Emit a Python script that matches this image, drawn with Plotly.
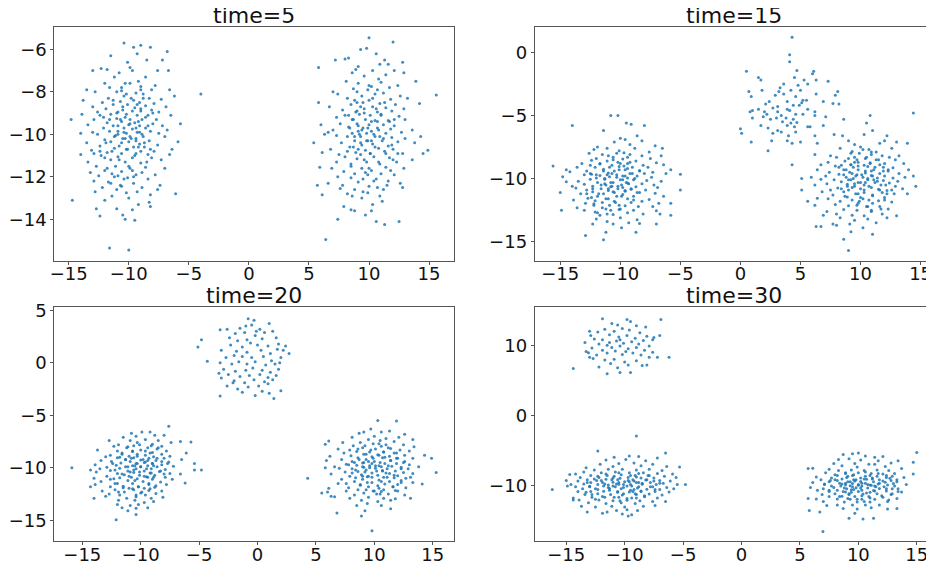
import plotly.graph_objects as go

# ---------------- data ----------------
titles = ["time=5", "time=15", "time=20", "time=30"]
x_ticks = [-15, -10, -5, 0, 5, 10, 15]
y_ticks = [[-14, -12, -10, -8, -6], [0, -5, -10, -15], [5, 0, -5, -10, -15], [10, 0, -10]]

t5_left = [(-10.4,-5.7),(-9.0,-5.8),(-8.2,-5.9),(-6.8,-6.1),(-9.6,-5.9),(-11.5,-6.3),(-9.3,-6.2),(-10.1,-6.6),(-8.5,-6.5),(-12.3,-6.9),(-7.2,-6.5),(-11.8,-6.95),(-9.9,-6.85),
(-13.0,-7.0),(-10.8,-7.1),(-9.7,-7.0),(-7.6,-7.0),(-6.7,-7.0),(-11.2,-7.3),(-9.2,-7.5),(-8.6,-7.3),(-12.0,-7.6),(-10.3,-7.6),(-7.8,-7.7),(-9.0,-7.75),(-11.6,-7.8),(-8.1,-7.9),(-13.5,-7.9),(-10.6,-7.95),(-6.6,-7.9),
(-12.8,-8.0),(-11.0,-8.0),(-9.4,-8.05),(-8.8,-8.1),(-6.2,-8.2),(-10.4,-8.2),(-11.7,-8.3),(-9.8,-8.3),(-8.3,-8.3),(-7.3,-8.35),(-13.8,-8.4),(-10.7,-8.45),(-9.1,-8.5),(-12.2,-8.5),(-7.9,-8.55),(-11.3,-8.6),(-10.1,-8.6),(-8.6,-8.65),(-13.0,-8.7),(-9.5,-8.75),(-6.9,-8.7),(-11.9,-8.8),(-10.5,-8.85),(-8.1,-8.85),(-9.0,-8.9),(-12.6,-8.95),(-7.5,-8.95),(-10.9,-8.95),
(-14.8,-9.3),(-13.9,-9.05),(-12.4,-9.1),(-11.5,-9.05),(-10.2,-9.05),(-9.3,-9.1),(-8.4,-9.1),(-6.5,-9.1),(-5.7,-9.5),(-12.9,-9.3),(-11.0,-9.25),(-9.9,-9.3),(-8.9,-9.3),(-7.7,-9.3),(-10.6,-9.4),(-9.5,-9.45),(-11.8,-9.45),(-8.0,-9.5),(-13.4,-9.55),(-10.0,-9.55),(-9.1,-9.6),(-11.3,-9.6),(-7.2,-9.6),(-12.1,-9.7),(-10.4,-9.7),(-8.6,-9.7),(-9.7,-9.75),(-11.6,-9.85),(-6.8,-9.8),(-10.9,-9.85),(-8.2,-9.85),(-13.0,-9.9),(-9.3,-9.9),(-10.2,-9.95),(-14.0,-9.95),(-7.5,-9.95),
(-12.6,-10.0),(-11.1,-10.05),(-9.9,-10.1),(-8.8,-10.1),(-7.0,-10.1),(-5.9,-10.35),(-10.5,-10.2),(-9.4,-10.2),(-12.0,-10.25),(-8.3,-10.3),(-11.5,-10.35),(-10.0,-10.35),(-13.5,-10.4),(-9.1,-10.45),(-7.6,-10.5),(-10.8,-10.55),(-12.4,-10.55),(-9.6,-10.6),(-8.7,-10.6),(-6.4,-10.7),(-11.2,-10.65),(-10.2,-10.7),(-13.1,-10.75),(-9.0,-10.8),(-7.9,-10.8),(-11.8,-10.85),(-10.6,-10.9),(-9.4,-10.9),(-8.4,-10.95),(-12.9,-10.9),(-6.6,-10.95),(-14.0,-10.95),
(-12.3,-11.0),(-10.9,-11.05),(-9.7,-11.1),(-8.1,-11.1),(-7.3,-11.2),(-11.5,-11.2),(-13.4,-11.3),(-10.3,-11.3),(-9.0,-11.35),(-12.7,-11.5),(-11.1,-11.5),(-8.6,-11.55),(-9.9,-11.6),(-7.0,-11.6),(-12.0,-11.7),(-10.6,-11.75),(-8.9,-11.8),(-13.2,-11.8),(-11.4,-11.85),(-9.4,-11.9),(-7.8,-11.9),(-10.9,-11.95),(-12.5,-11.95),
(-11.2,-12.0),(-10.1,-12.05),(-8.4,-12.1),(-12.9,-12.2),(-11.7,-12.25),(-9.6,-12.3),(-7.4,-12.4),(-10.6,-12.45),(-12.2,-12.5),(-8.9,-12.5),(-11.0,-12.6),(-9.3,-12.7),(-7.6,-12.6),(-12.8,-12.7),(-10.2,-12.75),(-8.2,-12.85),(-6.1,-12.8),(-11.4,-12.9),
(-14.7,-13.1),(-10.0,-13.0),(-12.0,-13.1),(-8.3,-13.2),(-9.2,-13.3),(-11.0,-13.5),(-12.7,-13.5),(-9.7,-13.55),(-8.2,-13.4),(-10.5,-13.8),(-12.4,-13.85),(-10.3,-14.0),(-9.5,-14.05),(-11.6,-15.35),(-10.0,-15.45),(-4.0,-8.1)]
t5_left_core = [(-10.3,-9.2),(-9.7,-8.9),(-10.9,-9.6),(-9.4,-10.3),(-10.6,-10.4),(-9.9,-9.5),(-10.1,-10.7),(-9.2,-9.4),(-11.2,-10.1),(-8.9,-10.0),(-10.5,-8.7),(-9.6,-8.4),(-11.0,-9.0),(-9.0,-8.8),(-10.2,-8.1),(-10.8,-11.2),(-9.5,-11.0),(-8.7,-10.4),(-11.4,-10.8),(-10.0,-11.5),(-9.3,-8.6),(-8.4,-9.6),(-11.6,-9.3),(-10.4,-9.9),(-9.8,-10.2),(-9.1,-9.9),(-10.7,-9.3),(-11.9,-10.4),(-8.2,-10.7),(-9.9,-7.6),(-10.6,-7.8),(-8.8,-8.3),(-11.3,-8.4),(-12.1,-9.2),(-8.5,-11.3),(-11.8,-11.6),(-9.6,-12.0),(-10.4,-12.1),(-9.2,-10.6),(-10.3,-10.2),(-9.0,-7.9),(-8.6,-9.2),(-11.5,-12.3),(-10.7,-12.4),(-12.4,-10.8),(-9.4,-9.7),(-10.9,-10.0),(-8.0,-9.0),(-12.0,-11.1),(-9.7,-11.7)]

t5_right = [(10.0,-5.45),(12.0,-5.65),(9.3,-6.0),(9.8,-5.95),(10.6,-6.2),(11.3,-6.5),(12.8,-6.6),(7.2,-6.5),(8.0,-6.45),(8.3,-6.4),(10.9,-6.7),(5.8,-6.85),(9.1,-6.8),(11.6,-6.7),(8.9,-6.95),
(8.6,-7.1),(10.3,-7.0),(12.1,-7.0),(12.9,-7.1),(11.4,-7.2),(9.6,-7.25),(10.8,-7.4),(13.9,-7.5),(8.1,-7.5),(11.0,-7.55),(9.1,-7.6),(12.4,-7.7),(10.2,-7.75),(11.7,-7.8),(8.7,-7.85),(9.9,-7.9),(7.0,-8.0),
(11.2,-8.05),(7.4,-8.1),(10.5,-8.1),(12.6,-8.2),(15.6,-8.15),(9.4,-8.2),(8.2,-8.3),(13.2,-8.3),(11.8,-8.35),(10.0,-8.4),(5.8,-8.5),(9.0,-8.5),(10.9,-8.55),(12.2,-8.6),(14.2,-8.55),(8.5,-8.6),(6.7,-8.7),(10.3,-8.7),(11.4,-8.75),(9.6,-8.8),(12.9,-8.8),(7.8,-8.85),(10.7,-8.95),(8.9,-8.95),(11.9,-8.9),
(6.0,-9.55),(7.3,-9.2),(8.3,-9.1),(9.2,-9.05),(10.1,-9.1),(11.0,-9.05),(12.5,-9.15),(13.0,-9.3),(8.7,-9.3),(9.7,-9.3),(10.5,-9.35),(11.6,-9.35),(7.6,-9.5),(9.0,-9.5),(10.0,-9.55),(11.2,-9.55),(12.1,-9.6),(8.3,-9.65),(9.5,-9.7),(10.7,-9.7),(11.8,-9.75),(13.6,-9.8),(7.0,-9.8),(9.1,-9.85),(10.2,-9.85),(8.6,-9.95),(11.4,-9.95),(12.7,-9.9),(9.8,-9.95),(6.6,-9.9),(14.3,-10.1),
(5.4,-10.4),(6.3,-10.0),(7.3,-10.05),(8.2,-10.1),(9.3,-10.1),(10.5,-10.1),(11.9,-10.15),(13.0,-10.2),(8.8,-10.3),(9.9,-10.3),(11.1,-10.3),(12.4,-10.35),(7.7,-10.4),(10.3,-10.45),(13.8,-10.4),(9.4,-10.5),(11.6,-10.55),(8.4,-10.6),(10.8,-10.65),(12.0,-10.7),(6.8,-10.7),(9.7,-10.75),(14.9,-10.75),(11.3,-10.8),(8.9,-10.85),(10.1,-10.9),(12.8,-10.9),(7.5,-10.95),(9.3,-10.95),(14.5,-10.9),(6.1,-10.85),
(8.0,-11.05),(10.4,-11.05),(11.7,-11.1),(9.0,-11.15),(12.3,-11.3),(13.6,-11.2),(7.3,-11.3),(9.8,-11.3),(10.9,-11.4),(8.5,-11.5),(11.4,-11.55),(5.9,-11.55),(6.9,-11.6),(9.4,-11.6),(12.9,-11.6),(10.2,-11.7),(7.9,-11.75),(11.0,-11.85),(8.8,-11.85),(9.9,-11.9),(12.1,-11.9),
(7.4,-12.0),(8.5,-12.05),(10.6,-12.1),(11.6,-12.2),(9.1,-12.25),(6.6,-12.3),(12.6,-12.3),(7.8,-12.4),(10.0,-12.45),(8.8,-12.6),(11.2,-12.6),(5.7,-12.4),(9.5,-12.7),(12.8,-12.5),(7.6,-12.55),(8.2,-12.8),(9.9,-12.75),(10.9,-12.9),(6.1,-12.85),(8.6,-12.9),
(9.4,-13.0),(11.1,-13.15),(10.3,-13.3),(7.9,-13.4),(8.5,-13.55),(8.8,-13.6),(10.2,-13.6),(9.7,-13.8),(11.3,-14.25),(10.6,-14.1),(7.4,-14.0),(12.5,-14.1),(6.4,-14.95)]
t5_right_core = [(10.2,-9.4),(9.6,-9.0),(10.8,-9.8),(9.3,-10.4),(10.5,-10.6),(9.9,-9.7),(10.1,-10.9),(9.1,-9.6),(11.2,-10.2),(8.8,-10.1),(10.6,-8.8),(9.5,-8.5),(11.0,-9.1),(9.0,-8.9),(10.3,-8.3),(10.8,-11.3),(9.6,-11.2),(8.7,-10.6),(11.4,-10.9),(10.0,-11.6),(9.3,-8.7),(8.4,-9.7),(11.7,-9.4),(10.4,-10.0),(9.8,-10.3),(9.2,-10.0),(10.7,-9.4),(11.9,-10.5),(8.2,-10.8),(10.0,-7.7),(10.7,-7.9),(8.8,-8.4),(11.3,-8.5),(12.1,-9.3),(8.5,-11.4),(11.8,-11.7),(9.5,-12.1),(10.4,-12.2),(9.1,-10.7),(10.2,-10.3),(9.0,-8.0),(8.6,-9.3),(11.5,-12.4),(10.7,-12.5),(12.4,-10.9),(9.4,-9.8),(10.9,-10.1),(8.0,-9.1),(12.0,-11.2),(9.7,-11.8)]

t15_left = [(-10.8,-5.0),(-10.2,-5.0),(-14.0,-5.8),(-9.5,-5.6),(-9.1,-5.7),(-8.0,-5.8),(-11.4,-6.2),(-8.6,-6.6),(-10.0,-6.8),(-9.6,-6.9),(-7.1,-7.4),(-8.2,-7.0),(-10.5,-7.1),(-11.9,-7.5),(-9.2,-7.3),(-6.5,-7.6),(-12.2,-7.7),(-11.1,-7.6),(-8.8,-7.6),(-10.1,-7.8),(-7.6,-7.9),(-9.7,-7.95),(-12.6,-8.0),(-6.6,-8.2),
(-11.5,-8.1),(-9.2,-8.1),(-8.2,-8.2),(-10.6,-8.3),(-12.0,-8.4),(-12.4,-8.55),(-9.8,-8.45),(-7.5,-8.4),(-8.7,-8.6),(-11.1,-8.6),(-10.2,-8.7),(-13.2,-8.8),(-7.0,-8.75),(-9.4,-8.8),(-11.7,-8.85),(-6.4,-8.9),(-8.1,-8.95),(-10.7,-8.95),(-12.5,-8.95),
(-15.6,-9.0),(-13.6,-9.1),(-12.1,-9.1),(-10.1,-9.05),(-9.0,-9.1),(-7.7,-9.1),(-5.8,-9.3),(-14.5,-9.3),(-11.4,-9.25),(-9.6,-9.3),(-8.4,-9.35),(-12.8,-9.4),(-10.5,-9.4),(-7.3,-9.5),(-14.2,-9.45),(-11.0,-9.55),(-9.2,-9.6),(-8.0,-9.6),(-12.4,-9.65),(-10.3,-9.7),(-6.2,-9.6),(-5.0,-9.65),(-13.0,-9.7),(-11.7,-9.75),(-9.8,-9.8),(-8.6,-9.8),(-14.8,-9.85),(-10.9,-9.85),(-7.4,-9.9),(-12.0,-9.95),(-9.4,-9.95),
(-13.5,-10.2),(-12.5,-10.05),(-11.3,-10.05),(-10.0,-10.1),(-8.9,-10.1),(-7.8,-10.15),(-6.6,-10.2),(-14.5,-10.25),(-11.9,-10.3),(-10.6,-10.3),(-9.4,-10.35),(-8.2,-10.4),(-13.0,-10.45),(-11.2,-10.5),(-9.9,-10.5),(-7.2,-10.5),(-12.3,-10.6),(-10.8,-10.65),(-8.7,-10.65),(-6.9,-10.7),(-13.7,-10.75),(-11.6,-10.8),(-10.2,-10.8),(-9.1,-10.85),(-7.9,-10.9),(-12.8,-10.9),(-5.0,-10.9),(-11.0,-10.95),(-9.6,-10.95),(-14.0,-10.6),
(-15.0,-11.1),(-12.3,-11.05),(-10.6,-11.05),(-8.4,-11.1),(-7.1,-11.15),(-13.3,-11.2),(-11.4,-11.2),(-9.8,-11.25),(-11.9,-11.4),(-10.3,-11.4),(-8.9,-11.4),(-6.4,-11.4),(-12.7,-11.55),(-11.0,-11.6),(-9.4,-11.6),(-7.6,-11.65),(-13.9,-11.7),(-12.1,-11.75),(-10.5,-11.8),(-8.2,-11.8),(-11.5,-11.9),(-9.1,-11.9),(-6.8,-11.95),(-12.9,-11.95),(-5.8,-11.95),
(-14.9,-12.5),(-13.6,-12.3),(-12.2,-12.1),(-10.9,-12.1),(-9.6,-12.15),(-8.5,-12.2),(-7.3,-12.2),(-11.5,-12.3),(-11.2,-12.4),(-10.1,-12.45),(-8.9,-12.5),(-13.0,-12.5),(-7.0,-12.55),(-12.1,-12.65),(-9.4,-12.7),(-8.1,-12.8),(-10.6,-12.85),(-11.7,-12.9),(-5.8,-12.9),(-6.7,-12.8),
(-12.0,-13.2),(-10.0,-13.1),(-8.6,-13.25),(-11.1,-13.4),(-9.3,-13.5),(-12.3,-13.6),(-10.6,-13.6),(-7.0,-13.6),(-8.4,-13.55),(-11.2,-14.25),(-8.7,-14.25),(-12.9,-14.5),(-11.4,-14.85),(-9.9,-13.9)]
t15_left_core = [(-10.7,-9.6),(-10.1,-9.3),(-11.3,-10.0),(-9.8,-10.7),(-11.0,-10.8),(-10.3,-9.9),(-10.5,-11.1),(-9.6,-9.8),(-11.6,-10.5),(-9.3,-10.4),(-10.9,-9.1),(-10.0,-8.8),(-11.4,-9.4),(-9.4,-9.2),(-10.6,-8.5),(-11.2,-11.6),(-9.9,-11.4),(-9.1,-10.8),(-11.8,-11.2),(-10.4,-11.9),(-9.7,-9.0),(-8.8,-10.0),(-12.0,-9.7),(-10.8,-10.3),(-10.2,-10.6),(-9.5,-10.3),(-11.1,-9.7),(-12.3,-10.8),(-8.6,-11.1),(-10.3,-8.0),(-11.0,-8.2),(-9.2,-8.7),(-11.7,-8.8),(-12.5,-9.6),(-8.9,-11.7),(-12.2,-12.0),(-10.0,-12.4),(-10.8,-12.5),(-9.6,-11.0),(-10.7,-10.6),(-9.4,-8.3),(-9.0,-9.6),(-11.9,-12.7),(-11.1,-12.8),(-12.8,-11.2),(-9.8,-10.1),(-11.3,-10.4),(-8.4,-9.4),(-12.4,-11.5),(-10.1,-12.1)]

t15_mid = [(4.3,1.2),(4.1,-0.2),(4.1,-0.75),(0.5,-1.5),(1.5,-2.0),(1.7,-2.2),(6.1,-1.5),(6.0,-1.7),(4.7,-1.45),(4.5,-2.0),(5.3,-2.2),(7.3,-2.3),(6.3,-2.2),(3.6,-2.5),(4.8,-2.6),(5.6,-2.5),(0.7,-3.1),(1.8,-3.0),(3.2,-3.1),(4.2,-3.0),(5.0,-3.0),(8.1,-3.1),(7.9,-3.4),(0.9,-3.5),(2.9,-3.4),(3.6,-3.3),(4.6,-3.5),(5.2,-3.8),(6.3,-3.3),(2.4,-3.9),(3.9,-3.9),(5.5,-3.8),(6.9,-3.9),(8.2,-4.1),(7.7,-4.05),(2.1,-4.1),(3.1,-4.3),(4.4,-4.2),(4.9,-4.2),(3.9,-4.5),(1.5,-4.5),(2.7,-4.4),(0.8,-4.7),(1.0,-4.6),(4.1,-4.6),(5.6,-4.5),(6.2,-4.7),(3.1,-4.7),(2.2,-4.9),(3.4,-5.0),(4.6,-4.9),(5.2,-4.9),(6.2,-5.0),(1.0,-5.2),(1.9,-5.1),(3.0,-5.2),(3.8,-5.2),(4.4,-5.3),(7.1,-5.1),(2.5,-5.3),(3.5,-5.5),(4.2,-5.6),(4.7,-5.55),(5.6,-5.9),(5.8,-5.9),(1.7,-5.8),(2.3,-6.0),(3.1,-6.2),(3.9,-5.8),(4.5,-5.9),(6.9,-5.8),(0.0,-6.05),(0.1,-6.4),(2.7,-6.4),(3.4,-6.3),(4.0,-6.6),(4.6,-6.3),(6.2,-6.6),(7.8,-6.5),(0.9,-7.1),(2.6,-7.0),(3.9,-7.0),(4.3,-7.2),(5.0,-7.1),(6.4,-7.2),(2.3,-7.8),(4.3,-8.9),(5.1,-4.0),(3.3,-2.8),(2.0,-4.7)]

t15_right = [(14.4,-4.8),(10.8,-5.0),(8.6,-5.3),(10.5,-5.6),(11.0,-6.2),(10.3,-6.5),(12.2,-6.6),(8.5,-6.6),(9.0,-7.0),(12.0,-7.0),(13.0,-7.1),(11.6,-7.2),(9.5,-7.3),(8.3,-7.6),(10.0,-7.5),(13.9,-7.2),(10.7,-7.7),(12.6,-7.6),(9.3,-7.85),(11.3,-7.9),(6.2,-8.1),(7.5,-8.2),
(8.0,-8.3),(9.9,-8.0),(10.9,-8.1),(11.8,-8.2),(12.4,-8.3),(13.2,-8.2),(9.5,-8.3),(10.4,-8.4),(11.3,-8.5),(12.9,-8.5),(8.7,-8.6),(7.3,-8.7),(9.8,-8.7),(10.8,-8.75),(12.0,-8.8),(13.6,-8.8),(11.6,-8.9),(9.2,-8.9),(6.7,-8.9),(8.4,-8.95),(10.3,-8.95),
(7.9,-9.0),(9.4,-9.1),(10.6,-9.05),(11.9,-9.1),(12.7,-9.15),(14.0,-9.3),(6.4,-9.3),(8.6,-9.3),(9.8,-9.3),(11.1,-9.3),(12.3,-9.4),(7.4,-9.5),(9.1,-9.5),(10.4,-9.55),(11.6,-9.6),(13.2,-9.6),(8.2,-9.65),(9.7,-9.7),(10.9,-9.75),(12.0,-9.8),(14.4,-9.8),(5.9,-9.9),(7.1,-9.8),(8.8,-9.9),(10.2,-9.9),(11.4,-9.95),(12.7,-9.95),(13.7,-9.9),
(5.1,-10.0),(6.7,-10.05),(7.8,-10.1),(9.2,-10.1),(10.6,-10.1),(11.9,-10.15),(13.1,-10.2),(8.4,-10.25),(9.8,-10.3),(11.2,-10.3),(12.4,-10.35),(7.2,-10.4),(8.9,-10.45),(10.3,-10.5),(11.7,-10.5),(14.6,-10.6),(6.2,-10.5),(9.5,-10.6),(10.9,-10.7),(12.9,-10.6),(8.1,-10.75),(10.0,-10.8),(11.5,-10.85),(7.5,-10.9),(9.0,-10.9),(12.2,-10.95),(5.1,-10.9),(13.5,-10.8),
(6.8,-11.05),(8.6,-11.05),(10.3,-11.1),(11.8,-11.1),(9.6,-11.2),(12.8,-11.2),(7.7,-11.3),(11.0,-11.35),(13.9,-11.2),(8.9,-11.45),(10.0,-11.5),(12.0,-11.5),(6.4,-11.55),(7.3,-11.6),(9.3,-11.7),(10.7,-11.7),(11.5,-11.75),(5.6,-11.8),(8.3,-11.8),(12.6,-11.85),(9.8,-11.95),(11.0,-11.95),
(6.2,-12.1),(7.9,-12.05),(9.0,-12.15),(10.5,-12.2),(11.6,-12.2),(12.3,-12.4),(7.2,-12.6),(8.6,-12.45),(9.7,-12.5),(10.9,-12.6),(13.0,-12.95),(8.0,-12.8),(9.3,-12.9),(10.3,-12.95),(11.8,-12.8),(6.9,-12.9),
(6.3,-13.8),(6.7,-13.8),(8.3,-13.1),(9.5,-13.3),(10.6,-13.2),(12.2,-13.1),(7.7,-13.6),(8.0,-13.7),(9.1,-13.6),(11.3,-13.5),(10.2,-13.9),(9.2,-14.2),(8.6,-14.8),(9.0,-15.7),(11.0,-14.4)]
t15_right_core = [(10.4,-9.4),(9.8,-9.0),(11.0,-9.8),(9.5,-10.4),(10.7,-10.6),(10.1,-9.7),(10.3,-10.9),(9.3,-9.6),(11.4,-10.2),(9.0,-10.1),(10.8,-8.8),(9.7,-8.5),(11.2,-9.1),(9.2,-8.9),(10.5,-8.3),(11.0,-11.3),(9.8,-11.2),(8.9,-10.6),(11.6,-10.9),(10.2,-11.6),(9.5,-8.7),(8.6,-9.7),(11.9,-9.4),(10.6,-10.0),(10.0,-10.3),(9.4,-10.0),(10.9,-9.4),(12.1,-10.5),(8.4,-10.8),(10.2,-7.7),(10.9,-7.9),(9.0,-8.4),(11.5,-8.5),(12.3,-9.3),(8.7,-11.4),(12.0,-11.7),(9.7,-12.1),(10.6,-12.2),(9.3,-10.7),(10.4,-10.3),(9.2,-8.0),(8.8,-9.3),(11.7,-12.4),(10.9,-12.5),(12.6,-10.9),(9.6,-9.8),(11.1,-10.1),(8.2,-9.1),(12.2,-11.2),(9.9,-11.8)]

t20_left = [(-7.6,-6.05),(-9.2,-6.6),(-9.9,-6.6),(-10.8,-6.7),(-11.5,-7.1),(-10.4,-7.0),(-8.8,-6.9),(-8.0,-6.9),(-6.6,-7.5),(-5.7,-7.55),(-12.7,-7.4),(-10.9,-7.4),(-9.6,-7.3),(-8.5,-7.4),(-7.4,-7.6),(-11.9,-7.8),(-10.1,-7.8),(-9.0,-7.75),(-8.2,-7.95),(-12.3,-7.95),(-10.6,-7.9),
(-13.7,-8.3),(-11.2,-8.1),(-9.4,-8.1),(-8.6,-8.2),(-10.0,-8.3),(-7.8,-8.4),(-12.0,-8.4),(-10.7,-8.45),(-9.0,-8.55),(-6.1,-8.6),(-11.6,-8.6),(-8.2,-8.7),(-10.3,-8.7),(-12.6,-8.8),(-9.6,-8.8),(-11.0,-8.9),(-7.5,-8.9),(-8.9,-8.95),(-13.0,-8.95),
(-12.0,-9.05),(-10.6,-9.05),(-9.3,-9.1),(-8.0,-9.1),(-6.5,-9.2),(-11.3,-9.2),(-10.0,-9.25),(-8.7,-9.3),(-13.4,-9.3),(-12.5,-9.4),(-10.9,-9.4),(-9.6,-9.45),(-7.6,-9.45),(-11.7,-9.55),(-10.3,-9.6),(-9.0,-9.6),(-13.9,-9.7),(-8.2,-9.7),(-12.1,-9.75),(-10.7,-9.8),(-9.4,-9.8),(-5.4,-9.6),(-11.3,-9.9),(-10.0,-9.9),(-8.6,-9.9),(-7.2,-9.85),(-12.9,-9.95),
(-15.9,-10.0),(-14.3,-10.2),(-13.5,-10.1),(-11.8,-10.05),(-10.4,-10.1),(-9.1,-10.1),(-7.9,-10.15),(-4.8,-10.2),(-5.4,-10.2),(-12.6,-10.25),(-11.1,-10.3),(-9.7,-10.3),(-8.4,-10.35),(-13.8,-10.4),(-10.6,-10.45),(-9.2,-10.5),(-7.5,-10.55),(-12.0,-10.55),(-11.4,-10.65),(-10.1,-10.7),(-8.8,-10.7),(-6.6,-10.6),(-12.9,-10.8),(-9.5,-10.85),(-10.8,-10.9),(-7.9,-10.9),(-11.8,-10.95),
(-14.0,-11.0),(-12.3,-11.05),(-10.3,-11.05),(-9.0,-11.1),(-7.3,-11.1),(-11.1,-11.2),(-13.4,-11.3),(-9.8,-11.3),(-8.3,-11.35),(-6.2,-11.45),(-12.0,-11.5),(-10.7,-11.5),(-13.9,-11.6),(-9.3,-11.6),(-7.8,-11.6),(-11.5,-11.75),(-12.6,-11.8),(-10.2,-11.8),(-8.8,-11.85),(-14.3,-11.8),(-9.7,-11.95),(-11.0,-11.95),
(-13.3,-12.2),(-12.2,-12.1),(-10.6,-12.1),(-9.3,-12.15),(-8.2,-12.2),(-11.4,-12.3),(-10.0,-12.4),(-8.7,-12.45),(-12.7,-12.5),(-11.8,-12.6),(-9.6,-12.6),(-13.0,-12.7),(-10.4,-12.75),(-8.1,-12.8),(-11.2,-12.9),(-9.1,-12.9),(-14.0,-12.9),
(-11.9,-13.1),(-10.5,-13.1),(-9.7,-13.3),(-12.0,-13.5),(-10.9,-13.6),(-10.2,-13.5),(-8.9,-13.2),(-11.6,-13.8),(-10.4,-13.85),(-11.1,-14.1),(-10.4,-14.45),(-12.1,-14.95),(-9.4,-13.8)]
t20_left_core = [(-10.4,-9.6),(-9.8,-9.2),(-10.6,-10.2),(-9.1,-10.5),(-10.9,-10.4),(-10.0,-9.9),(-9.7,-10.8),(-9.4,-9.3),(-11.1,-9.9),(-8.9,-9.8),(-10.3,-8.9),(-9.2,-8.6),(-11.3,-9.2),(-8.6,-9.1),(-10.7,-8.4),(-10.5,-11.2),(-9.3,-11.5),(-8.9,-10.9),(-11.6,-10.6),(-10.2,-11.8),(-9.6,-8.4),(-8.3,-10.3),(-11.8,-9.0),(-10.1,-10.4),(-9.5,-10.1),(-9.0,-9.6),(-10.8,-9.1),(-12.2,-10.2),(-8.0,-10.6),(-10.3,-7.6),(-11.1,-8.0),(-9.1,-7.9),(-11.6,-8.7),(-12.4,-9.6),(-8.7,-11.7),(-11.5,-11.9),(-9.9,-12.3),(-10.7,-12.0),(-9.4,-10.9),(-10.5,-9.8),(-8.5,-8.1),(-8.2,-9.4),(-11.9,-12.3),(-10.4,-12.6),(-12.6,-11.1),(-9.7,-9.5),(-11.0,-10.8),(-7.7,-9.6),(-12.2,-11.5),(-9.2,-12.0)]

t20_mid = [(-5.1,1.5),(-4.8,2.2),(-4.3,0.15),(-3.2,-3.15),(-3.2,3.15),(-0.8,4.2),(-0.3,4.05),(1.0,3.75),(2.7,0.9),(2.4,1.6),(2.0,-2.65),(1.4,-3.4),(-0.2,-3.1),(1.0,-2.9),(-3.1,-1.45),
(-2.6,3.2),(-1.9,2.8),(-1.5,3.3),(-1.1,2.9),(-0.5,3.6),(0.2,3.2),(0.6,2.9),(1.3,3.0),(-2.4,2.4),(-1.7,2.1),(-0.9,2.2),(-0.2,2.6),(0.4,2.3),(1.6,2.4),(-2.3,1.7),(-1.3,1.5),(-0.6,1.9),(0.0,1.7),(0.9,1.6),(1.8,1.8),(2.2,1.2),(-3.1,1.2),(-1.8,1.1),(-0.9,1.0),(0.3,1.2),(1.1,0.9),(1.7,1.3),(-2.7,0.5),(-2.0,0.7),(-1.3,0.6),(-0.5,0.5),(0.5,0.6),(1.2,0.2),(2.0,0.5),(-3.2,0.0),(-2.2,-0.1),(-1.6,0.1),(-0.9,-0.1),(-0.2,0.1),(0.7,-0.2),(1.5,-0.1),(-2.9,-0.6),(-1.9,-0.8),(-1.0,-0.7),(-0.4,-0.5),(0.4,-0.7),(1.1,-0.9),(1.8,-0.6),(-2.5,-1.1),(-1.5,-1.3),(-0.7,-1.2),(0.2,-1.1),(0.9,-1.4),(1.6,-1.2),(-3.3,-1.0),(-2.0,-1.7),(-1.1,-1.9),(-0.3,-1.6),(0.6,-1.8),(1.3,-1.6),(-2.6,-2.2),(-1.7,-2.5),(-0.8,-2.3),(0.1,-2.2),(0.9,-2.0),(-1.3,-2.8),(0.4,-2.7),(-2.1,-1.9),(-0.1,3.0),(1.9,0.0),(-1.0,3.5)]

t20_right = [(10.3,-5.5),(11.9,-5.55),(9.7,-6.3),(10.6,-6.6),(11.3,-6.5),(8.7,-6.7),(9.1,-6.6),(12.6,-6.8),(10.0,-7.0),(12.1,-7.1),(11.0,-7.2),(8.1,-7.1),(9.5,-7.3),(13.3,-7.3),(10.5,-7.4),(7.3,-7.6),(11.7,-7.5),(6.1,-7.45),(5.8,-7.75),(8.8,-7.6),(9.9,-7.7),(12.5,-7.8),(11.0,-7.8),(13.4,-8.0),(8.2,-7.9),(10.6,-7.95),
(6.9,-8.2),(7.9,-8.3),(9.0,-8.1),(10.1,-8.2),(11.4,-8.15),(12.2,-8.3),(13.0,-8.4),(8.5,-8.45),(9.6,-8.5),(10.8,-8.5),(11.9,-8.6),(7.4,-8.6),(14.3,-8.8),(9.1,-8.7),(10.3,-8.75),(12.6,-8.8),(8.0,-8.85),(11.3,-8.9),(6.2,-8.9),(9.8,-8.95),
(14.9,-9.1),(13.3,-9.1),(8.6,-9.05),(10.7,-9.05),(12.0,-9.1),(7.2,-9.2),(9.3,-9.2),(11.4,-9.3),(5.9,-9.3),(8.1,-9.4),(10.0,-9.4),(12.6,-9.4),(9.0,-9.55),(10.9,-9.6),(11.9,-9.6),(7.6,-9.65),(13.0,-9.7),(8.5,-9.75),(9.6,-9.8),(10.4,-9.8),(11.5,-9.85),(6.6,-9.9),(12.3,-9.95),(9.1,-9.95),(13.8,-9.9),(5.8,-10.0),
(4.3,-11.0),(7.0,-10.05),(8.1,-10.1),(10.1,-10.05),(11.1,-10.1),(12.9,-10.1),(15.3,-10.45),(9.3,-10.2),(10.7,-10.25),(11.8,-10.3),(8.6,-10.35),(7.5,-10.4),(12.5,-10.45),(9.8,-10.5),(11.3,-10.55),(13.3,-10.55),(6.3,-10.6),(8.9,-10.65),(10.3,-10.7),(12.0,-10.75),(7.9,-10.8),(9.4,-10.85),(10.8,-10.9),(13.1,-10.9),(8.4,-10.95),(11.7,-10.95),(6.9,-11.5),
(7.2,-11.1),(9.0,-11.1),(10.4,-11.15),(12.3,-11.2),(8.3,-11.3),(11.3,-11.3),(9.8,-11.4),(13.3,-11.4),(7.6,-11.5),(10.9,-11.55),(12.0,-11.6),(14.1,-11.55),(8.8,-11.65),(9.5,-11.8),(11.6,-11.8),(7.8,-11.9),(10.4,-11.95),(12.7,-11.9),(6.1,-11.95),
(5.5,-12.4),(6.0,-12.3),(6.3,-12.7),(7.6,-12.2),(8.6,-12.1),(9.9,-12.2),(10.6,-12.25),(11.8,-12.15),(9.1,-12.4),(10.2,-12.5),(11.2,-12.5),(12.6,-12.6),(8.3,-12.6),(6.6,-12.75),(9.5,-12.8),(13.1,-12.9),(10.8,-12.9),(7.9,-12.9),(11.8,-12.95),
(8.9,-13.1),(9.4,-13.4),(10.3,-13.2),(11.4,-13.1),(6.8,-14.3),(8.5,-13.6),(9.2,-14.1),(8.9,-14.6),(11.4,-13.9),(9.8,-16.0),(10.6,-13.6)]
t20_right_core = [(10.5,-9.5),(9.9,-9.1),(10.7,-10.3),(9.2,-10.4),(11.0,-10.5),(10.1,-9.8),(9.8,-10.9),(9.5,-9.4),(11.2,-9.8),(9.0,-9.9),(10.4,-8.8),(9.3,-8.7),(11.4,-9.3),(8.7,-9.2),(10.8,-8.5),(10.6,-11.3),(9.4,-11.4),(9.0,-10.8),(11.7,-10.7),(10.3,-11.7),(9.7,-8.3),(8.4,-10.2),(11.9,-9.1),(10.2,-10.3),(9.6,-10.0),(9.1,-9.5),(10.9,-9.0),(12.3,-10.1),(8.1,-10.5),(10.4,-7.7),(11.2,-8.1),(9.2,-7.9),(11.7,-8.6),(12.5,-9.5),(8.8,-11.6),(11.6,-11.8),(10.0,-12.2),(10.8,-12.1),(9.5,-10.8),(10.6,-9.9),(8.6,-8.2),(8.3,-9.5),(12.0,-12.2),(10.5,-12.5),(12.7,-11.0),(9.8,-9.6),(11.1,-10.9),(7.8,-9.7),(12.3,-11.4),(9.3,-12.1)]

t30_top = [(-14.4,6.7),(-11.9,13.8),(-6.9,13.7),(-6.2,8.3),(-11.5,5.95),(-10.4,6.1),(-9.5,6.1),(-13.1,8.95),(-13.0,12.0),(-9.8,13.7),(-7.2,8.3),(-7.0,11.4),
(-11.1,13.1),(-10.6,12.9),(-9.5,13.4),(-9.0,12.8),(-8.2,12.6),(-12.9,11.4),(-12.3,11.9),(-11.7,12.3),(-10.9,12.0),(-10.2,12.4),(-9.6,12.2),(-8.7,11.8),(-8.1,11.3),(-7.5,11.1),(-12.6,10.9),(-11.9,10.8),(-11.3,11.5),(-10.5,11.2),(-9.8,11.4),(-9.1,11.0),(-8.4,10.7),(-7.6,10.8),(-13.4,10.4),(-12.2,10.2),(-11.5,10.0),(-10.7,10.6),(-10.1,10.3),(-9.4,10.5),(-8.8,10.2),(-7.9,9.9),(-12.8,9.6),(-11.9,9.3),(-11.1,9.7),(-10.4,9.9),(-9.7,9.5),(-9.0,9.7),(-8.3,9.3),(-7.6,9.0),(-13.3,9.1),(-12.4,8.6),(-11.5,8.9),(-10.8,9.2),(-10.2,8.7),(-9.3,8.9),(-8.6,8.6),(-7.9,8.3),(-12.7,8.1),(-11.7,7.9),(-10.9,8.0),(-10.0,7.6),(-9.0,7.8),(-8.5,7.1),(-8.1,7.2),(-11.2,7.4),(-12.2,6.9),(-10.6,6.8),(-9.7,7.2),(-13.0,8.3),(-10.4,10.8),(-11.3,10.4),(-9.9,9.1)]

t30_left = [(-9.0,-2.95),(-12.3,-5.1),(-6.5,-5.4),(-9.6,-5.8),(-8.8,-5.9),(-10.9,-6.0),(-7.2,-6.1),(-11.6,-6.4),(-9.9,-6.3),(-8.2,-6.5),(-5.3,-7.4),(-12.1,-7.0),(-10.5,-6.9),(-9.2,-6.8),(-7.6,-7.0),(-6.4,-7.3),(-13.3,-7.5),(-11.0,-7.3),(-8.6,-7.2),
(-14.2,-8.4),(-14.7,-8.45),(-12.6,-7.8),(-11.4,-7.7),(-10.2,-7.7),(-9.0,-7.8),(-7.9,-7.7),(-6.8,-7.9),(-13.5,-8.1),(-12.0,-8.2),(-10.8,-8.1),(-9.6,-8.2),(-8.4,-8.2),(-7.2,-8.3),(-5.9,-8.4),(-12.9,-8.6),(-11.5,-8.6),(-10.3,-8.5),(-9.1,-8.6),(-8.0,-8.6),(-6.6,-8.7),(-13.8,-8.9),(-12.2,-8.9),(-11.0,-8.95),(-9.7,-8.9),(-8.6,-8.95),(-7.5,-8.95),(-5.6,-8.9),
(-15.0,-9.3),(-14.0,-9.4),(-13.2,-9.2),(-12.4,-9.3),(-11.6,-9.15),(-10.6,-9.2),(-9.3,-9.2),(-8.2,-9.25),(-7.0,-9.3),(-6.1,-9.4),(-12.9,-9.6),(-11.9,-9.6),(-11.0,-9.55),(-10.0,-9.5),(-9.0,-9.6),(-7.8,-9.6),(-6.7,-9.7),(-14.6,-9.9),(-13.5,-9.8),(-12.3,-9.9),(-10.5,-9.85),(-9.5,-9.9),(-8.5,-9.85),(-7.3,-9.9),(-5.5,-9.9),(-4.8,-9.9),(-11.4,-9.95),
(-16.2,-10.6),(-14.2,-10.2),(-13.0,-10.15),(-11.8,-10.1),(-10.8,-10.2),(-9.8,-10.1),(-8.8,-10.2),(-7.6,-10.2),(-6.4,-10.3),(-13.6,-10.5),(-12.5,-10.5),(-11.3,-10.45),(-10.3,-10.5),(-9.2,-10.6),(-8.1,-10.55),(-7.0,-10.6),(-5.8,-10.5),(-14.0,-10.9),(-12.9,-10.9),(-11.8,-10.85),(-10.6,-10.9),(-9.6,-10.95),(-8.6,-10.9),(-7.4,-10.9),(-6.2,-10.95),(-14.9,-10.1),
(-13.4,-11.3),(-12.3,-11.2),(-11.2,-11.3),(-10.1,-11.2),(-9.0,-11.3),(-7.9,-11.25),(-6.8,-11.4),(-14.4,-11.8),(-12.8,-11.7),(-11.7,-11.7),(-10.5,-11.7),(-9.4,-11.8),(-8.3,-11.65),(-7.2,-11.8),(-6.5,-12.3),(-13.9,-12.1),(-12.2,-12.1),(-11.0,-12.2),(-9.8,-12.15),(-8.7,-12.2),(-7.6,-12.3),(-13.1,-12.5),(-11.6,-12.6),(-10.3,-12.5),(-9.1,-12.6),
(-14.4,-12.1),(-13.7,-13.0),(-12.5,-13.1),(-11.1,-13.0),(-10.0,-13.1),(-8.4,-13.0),(-7.4,-12.9),(-13.2,-13.8),(-11.5,-13.8),(-10.7,-13.6),(-9.8,-13.5),(-8.9,-13.6),(-10.2,-14.1),(-9.4,-14.2),(-9.7,-14.4),(-11.9,-14.0)]
t30_left_core = [(-10.5,-9.6),(-9.7,-9.3),(-11.0,-10.1),(-8.9,-10.4),(-11.4,-10.3),(-10.1,-9.9),(-9.5,-10.7),(-9.2,-9.4),(-11.7,-9.8),(-8.5,-9.7),(-10.4,-9.0),(-9.0,-8.8),(-12.0,-9.3),(-8.1,-9.2),(-10.9,-8.7),(-10.6,-11.0),(-9.1,-11.2),(-8.6,-10.8),(-12.3,-10.6),(-10.2,-11.4),(-9.5,-8.6),(-7.8,-10.2),(-12.6,-9.1),(-10.1,-10.3),(-9.4,-10.1),(-8.8,-9.6),(-11.1,-9.2),(-13.0,-10.2),(-7.4,-10.6),(-10.5,-8.2),(-11.6,-8.4),(-8.8,-8.3),(-12.3,-8.7),(-13.2,-9.6),(-8.3,-11.5),(-11.9,-11.6),(-9.8,-11.9),(-10.9,-11.7),(-9.3,-10.9),(-10.7,-9.8),(-7.9,-8.6),(-7.5,-9.4),(-12.5,-12.0),(-10.4,-12.2),(-13.3,-11.0),(-9.6,-9.5),(-11.3,-10.7),(-7.0,-9.7),(-12.8,-11.3),(-9.0,-11.8)]

t30_right = [(15.0,-5.3),(10.0,-5.4),(9.5,-5.5),(8.7,-5.6),(10.6,-5.8),(11.4,-6.0),(12.1,-5.9),(9.2,-6.2),(8.3,-6.3),(10.2,-6.4),(11.7,-6.5),(13.4,-6.5),(14.7,-6.7),(12.8,-6.8),(7.9,-6.9),(9.7,-6.9),(10.9,-7.0),(11.4,-7.0),(12.3,-7.3),(8.6,-7.2),(9.9,-7.4),(6.1,-7.55),(5.7,-7.6),(13.7,-7.6),(7.5,-7.7),
(8.3,-7.9),(9.4,-7.8),(10.5,-7.9),(11.6,-7.8),(12.6,-7.9),(7.2,-8.2),(8.9,-8.3),(10.0,-8.2),(11.1,-8.3),(12.1,-8.4),(13.1,-8.3),(14.7,-8.4),(9.5,-8.6),(10.6,-8.7),(11.6,-8.7),(8.2,-8.6),(12.9,-8.7),(6.4,-8.8),(9.0,-8.9),(10.2,-8.95),(11.2,-8.95),(12.4,-8.9),(7.7,-8.95),(13.9,-8.9),
(6.8,-9.2),(8.0,-9.2),(8.6,-9.1),(9.6,-9.2),(10.7,-9.15),(11.8,-9.2),(12.8,-9.3),(13.3,-9.2),(7.5,-9.5),(9.1,-9.5),(10.2,-9.45),(11.3,-9.5),(12.3,-9.55),(6.1,-9.6),(8.4,-9.7),(9.5,-9.75),(10.6,-9.7),(11.7,-9.8),(13.0,-9.75),(7.1,-9.9),(8.9,-9.95),(10.0,-9.9),(11.0,-9.95),(12.5,-9.95),(14.1,-9.9),
(5.9,-10.3),(7.7,-10.1),(8.5,-10.1),(9.3,-10.05),(10.3,-10.1),(11.4,-10.1),(12.2,-10.2),(13.4,-10.5),(7.0,-10.5),(8.8,-10.4),(9.8,-10.35),(10.8,-10.4),(11.8,-10.45),(12.9,-10.5),(6.5,-10.7),(8.2,-10.7),(9.4,-10.65),(10.3,-10.7),(11.3,-10.75),(12.4,-10.8),(7.5,-10.9),(8.9,-10.95),(10.0,-10.9),(11.0,-11.0),(13.7,-10.95),
(5.7,-11.9),(6.9,-11.3),(8.0,-11.2),(9.2,-11.2),(10.4,-11.25),(11.6,-11.2),(12.8,-11.3),(7.5,-11.6),(8.6,-11.55),(9.7,-11.6),(10.9,-11.6),(12.1,-11.7),(13.3,-11.9),(6.4,-11.95),(8.2,-11.95),(9.3,-12.0),(10.3,-12.0),(11.4,-12.0),(12.5,-12.3),(7.0,-12.3),(8.8,-12.4),(9.9,-12.4),(11.0,-12.4),
(5.8,-13.6),(6.7,-13.8),(7.3,-12.9),(8.2,-12.8),(9.5,-12.8),(10.6,-12.8),(11.8,-12.8),(13.3,-13.3),(8.7,-13.3),(9.9,-13.4),(11.1,-13.2),(9.2,-14.7),(10.4,-14.8),(11.3,-14.7),(12.5,-13.4),(9.7,-14.0),(6.97,-16.6)]
t30_right_core = [(10.3,-9.7),(9.8,-9.2),(11.1,-10.0),(9.0,-10.5),(11.5,-10.2),(10.0,-10.0),(9.6,-10.6),(9.3,-9.5),(11.8,-9.7),(8.6,-9.8),(10.5,-9.1),(9.1,-8.7),(12.1,-9.4),(8.2,-9.3),(11.0,-8.6),(10.7,-11.1),(9.2,-11.3),(8.7,-10.9),(12.4,-10.5),(10.3,-11.5),(9.6,-8.5),(7.9,-10.3),(12.7,-9.0),(10.2,-10.4),(9.5,-10.2),(8.9,-9.7),(11.2,-9.1),(13.1,-10.1),(7.5,-10.7),(10.6,-8.1),(11.7,-8.3),(8.9,-8.2),(12.4,-8.6),(13.3,-9.5),(8.4,-11.6),(12.0,-11.5),(9.9,-12.0),(11.0,-11.8),(9.4,-11.0),(10.8,-9.9),(8.0,-8.5),(7.6,-9.3),(12.6,-12.1),(10.5,-12.3),(13.4,-10.9),(9.7,-9.4),(11.4,-10.8),(7.1,-9.8),(12.9,-11.2),(9.1,-11.9)]

panels = [t5_left + t5_left_core + t5_right + t5_right_core,
          t15_left + t15_left_core + t15_mid + t15_right + t15_right_core,
          t20_left + t20_left_core + t20_mid + t20_right + t20_right_core,
          t30_top + t30_left + t30_left_core + t30_right + t30_right_core]
x_ranges = [[-16.2, 17.1], [-17.13, 15.45], [-17.4, 16.85], [-17.7, 15.79]]
y_ranges = [[-15.95, -4.96], [-16.5, 1.98], [-17.0, 5.29], [-18.0, 15.43]]

# ---------------- layout ----------------
# the page body adds an 8px margin, so the figure is drawn 8px in from the
# window corner and sized to fit inside the 934x572 window
OFF = 8
W, H = 934 - 2 * OFF, 572 - 2 * OFF


def px_x(a, b):
    return [(a - OFF) / W, min(1.0, (b - OFF) / W)]


def px_y(top, bottom):
    return [1 - (bottom - OFF) / H, 1 - (top - OFF) / H]


x_domains = [px_x(54.3, 454.3), px_x(534.7, 926.0), px_x(54.3, 454.3), px_x(534.7, 926.0)]
y_domains = [px_y(27.3, 260.7), px_y(27.3, 260.7), px_y(307.3, 541.3), px_y(307.3, 541.3)]

FONT = "DejaVu Sans"
LINE = "#555555"
BLUE = "#1f77b4"
TXT = "#111111"


def tick_text(vals):
    return [("\u2212" + str(abs(v))) if v < 0 else str(v) for v in vals]


fig = go.Figure()
annotations = []
for i, pts in enumerate(panels):
    n = "" if i == 0 else str(i + 1)
    fig.add_trace(go.Scatter(
        x=[p[0] for p in pts], y=[p[1] for p in pts],
        mode="markers", xaxis="x" + n, yaxis="y" + n,
        marker=dict(size=3, color=BLUE, opacity=0.85, line=dict(width=0)),
        showlegend=False, hoverinfo="skip"))
    right_panel = i in (1, 3)
    fig.layout["xaxis" + n] = dict(
        domain=x_domains[i], range=x_ranges[i], anchor="y" + n, automargin=False,
        tickmode="array", tickvals=x_ticks, ticktext=tick_text(x_ticks),
        showgrid=False, zeroline=False, showline=True, linecolor=LINE, linewidth=1,
        mirror=True, ticks="outside", ticklen=3, tickcolor=LINE, tickwidth=1,
        ticklabelstandoff=-6, ticklabeloverflow="allow",
        tickfont=dict(family=FONT, size=18, color=TXT))
    fig.layout["yaxis" + n] = dict(
        domain=y_domains[i], range=y_ranges[i], anchor="x" + n, automargin=False,
        tickmode="array", tickvals=y_ticks[i], ticktext=tick_text(y_ticks[i]),
        showgrid=False, zeroline=False, showline=True, linecolor=LINE, linewidth=1,
        mirror=(not right_panel), ticks="outside", ticklen=3, tickcolor=LINE, tickwidth=1,
        ticklabeloverflow="allow",
        tickfont=dict(family=FONT, size=18, color=TXT))
    annotations.append(dict(
        text=titles[i], xref="paper", yref="paper",
        x=(x_domains[i][0] + (x_domains[i][0] + 398.6 / W)) / 2 if right_panel
        else (x_domains[i][0] + x_domains[i][1]) / 2,
        y=y_domains[i][1], xanchor="center", yanchor="bottom", yshift=-3,
        showarrow=False, font=dict(family=FONT, size=22, color=TXT)))

fig.update_layout(
    width=W, height=H, margin=dict(l=0, r=0, t=0, b=0),
    paper_bgcolor="white", plot_bgcolor="white",
    annotations=annotations)

fig.write_html("out.html")
